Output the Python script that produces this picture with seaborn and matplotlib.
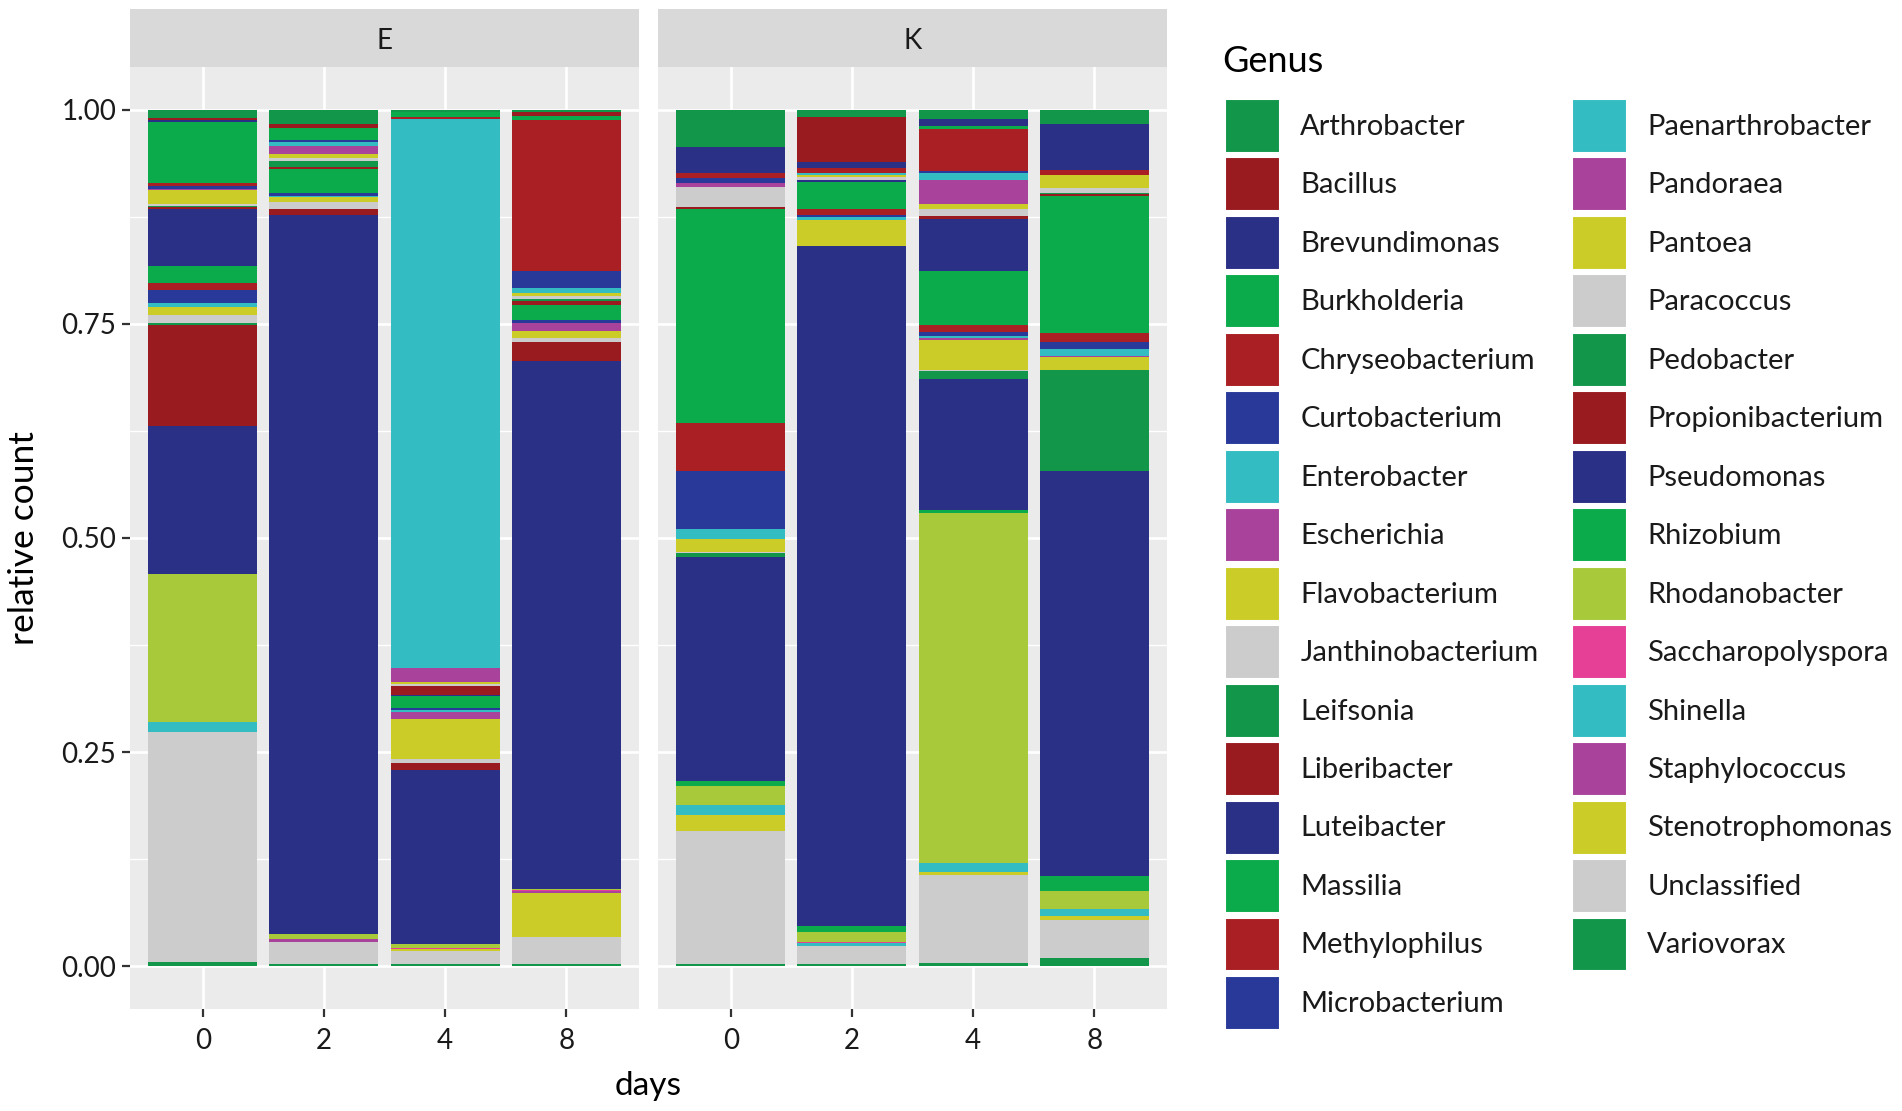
import numpy as np
import pandas as pd
import matplotlib
matplotlib.use("Agg")
import matplotlib.pyplot as plt
import seaborn as sns
from matplotlib.patches import Patch
from matplotlib.ticker import FixedLocator

genera = ["Arthrobacter", "Bacillus", "Brevundimonas", "Burkholderia", "Chryseobacterium",
          "Curtobacterium", "Enterobacter", "Escherichia", "Flavobacterium", "Janthinobacterium",
          "Leifsonia", "Liberibacter", "Luteibacter", "Massilia", "Methylophilus",
          "Microbacterium", "Paenarthrobacter", "Pandoraea", "Pantoea", "Paracoccus",
          "Pedobacter", "Propionibacterium", "Pseudomonas", "Rhizobium", "Rhodanobacter",
          "Saccharopolyspora", "Shinella", "Staphylococcus", "Stenotrophomonas", "Unclassified",
          "Variovorax"]

days = ["0", "2", "4", "8"]
sites = ["E", "K"]

#            Arth   Baci   Brev   Burk   Chry   Curt   Ente   Esch   Flav   Jant
#            Leif   Libe   Lute   Mass   Meth   Micr   Paen   Pand   Pant   Para
#            Pedo   Prop   Pseu   Rhiz   Rhod   Sacc   Shin   Stap   Sten   Uncl   Vari
E_day0 = [0.010, 0.002, 0.002, 0.071, 0.004, 0.0035, 0.0, 0.001, 0.0165, 0.002,
          0.002, 0.002, 0.067, 0.019, 0.009, 0.015, 0.005, 0.0, 0.009, 0.009,
          0.003, 0.118, 0.172, 0.001, 0.172, 0.0, 0.012, 0.0, 0.0, 0.269, 0.005]
E_day2 = [0.016, 0.005, 0.0, 0.0145, 0.0, 0.0023, 0.004, 0.010, 0.0045, 0.003,
          0.007, 0.0027, 0.0, 0.028, 0.0, 0.0035, 0.001, 0.0, 0.006, 0.0085,
          0.0, 0.006, 0.839, 0.0, 0.005, 0.0, 0.0, 0.004, 0.0, 0.026, 0.002]
E_day4 = [0.003, 0.0, 0.0, 0.005, 0.003, 0.0, 0.642, 0.0157, 0.003, 0.002,
          0.0, 0.010, 0.001, 0.015, 0.0, 0.002, 0.002, 0.008, 0.0475, 0.004,
          0.0, 0.009, 0.2023, 0.001, 0.004, 0.001, 0.0, 0.001, 0.002, 0.0155, 0.002]
E_day8 = [0.003, 0.004, 0.0, 0.005, 0.177, 0.019, 0.006, 0.0, 0.004, 0.003,
          0.003, 0.004, 0.0, 0.018, 0.0, 0.003, 0.0, 0.010, 0.008, 0.005,
          0.0, 0.022, 0.617, 0.0, 0.001, 0.002, 0.0, 0.002, 0.0514, 0.032, 0.002]
K_day0 = [0.043, 0.0, 0.031, 0.0, 0.006, 0.006, 0.0, 0.004, 0.0, 0.023,
          0.0, 0.003, 0.0, 0.249, 0.057, 0.067, 0.012, 0.0, 0.0146, 0.002,
          0.0045, 0.0, 0.261, 0.006, 0.022, 0.0, 0.0125, 0.0, 0.018, 0.156, 0.002]
K_day2 = [0.0085, 0.0525, 0.007, 0.0, 0.006, 0.0, 0.002, 0.0, 0.003, 0.003,
          0.0, 0.0, 0.002, 0.0315, 0.007, 0.003, 0.003, 0.0, 0.030, 0.0,
          0.0, 0.0, 0.795, 0.007, 0.0117, 0.001, 0.003, 0.0, 0.001, 0.021, 0.002]
K_day4 = [0.011, 0.0, 0.008, 0.003, 0.050, 0.002, 0.0085, 0.0275, 0.006, 0.0085,
          0.0, 0.003, 0.0603, 0.0634, 0.0085, 0.004, 0.003, 0.002, 0.035, 0.001,
          0.010, 0.0, 0.1527, 0.003, 0.4086, 0.001, 0.010, 0.0, 0.004, 0.102, 0.004]
K_day8 = [0.017, 0.0, 0.053, 0.0, 0.006, 0.0, 0.0, 0.0, 0.0147, 0.006,
          0.002, 0.002, 0.0, 0.160, 0.0104, 0.008, 0.0075, 0.002, 0.0145, 0.0,
          0.1185, 0.0, 0.472, 0.0167, 0.0214, 0.0, 0.0085, 0.0, 0.004, 0.0443, 0.010]

y_ticks = [0.0, 0.25, 0.5, 0.75, 1.0]
y_tick_labels = ["0.00", "0.25", "0.50", "0.75", "1.00"]

DG, DR, NV, GR, RD, BL, CY, MG, YL, GY = ("#11964A", "#991B1F", "#2B3087", "#0BAB4B", "#A91F24",
                                          "#28399A", "#33BDC3", "#A8429A", "#CCCC28", "#CCCCCC")
palette = [DG, DR, NV, GR, RD, BL, CY, MG, YL, GY,
           DG, DR, NV, GR, RD, BL, CY, MG, YL, GY,
           DG, DR, NV, GR, "#A8C939", "#E63F96", CY, MG, YL, GY, DG]

sns.set_theme(style="darkgrid")
plt.rcParams["font.family"] = ["Lato", "DejaVu Sans"]

samples = {"E": [E_day0, E_day2, E_day4, E_day8], "K": [K_day0, K_day2, K_day4, K_day8]}
rows = []
for site in sites:
    for d, vals in zip(days, samples[site]):
        for gi, (g, v) in enumerate(zip(genera, vals)):
            rows.append(dict(site=site, day=d, Genus=g, gi=gi, count=v))
df = pd.DataFrame(rows)
df["rel"] = df["count"] / df.groupby(["site", "day"])["count"].transform("sum")
df = df.sort_values(["site", "day", "gi"], ascending=[True, True, False])
df["top"] = df.groupby(["site", "day"])["rel"].cumsum()

W, H = 1902, 1111
fig = plt.figure(figsize=(W / 100, H / 100), dpi=100)
fig.patch.set_facecolor("white")

panel_left = {"E": 130, "K": 658}
panel_w = 509
panel_top, panel_bot = 67, 1009
strip_top = 9
TXT = "#1A1A1A"

for site in sites:
    l = panel_left[site]
    ax = fig.add_axes([l / W, 1 - panel_bot / H, panel_w / W, (panel_bot - panel_top) / H])
    sub = df[df.site == site]
    for gi, g in enumerate(genera):
        sns.barplot(data=sub[sub.Genus == g], x="day", y="top", order=days,
                    color=palette[gi], saturation=1, width=0.9, errorbar=None,
                    linewidth=0, ax=ax)
    ax.set_facecolor("#EBEBEB")
    ax.set_xlim(-0.6, 3.6)
    ax.set_ylim(-0.05, 1.05)
    ax.yaxis.set_major_locator(FixedLocator(y_ticks))
    ax.yaxis.set_minor_locator(FixedLocator([0.125, 0.375, 0.625, 0.875]))
    ax.grid(True, which="major", axis="both", color="white", linewidth=1.9)
    ax.grid(True, which="minor", axis="y", color="white", linewidth=1.0)
    ax.set_axisbelow(True)
    for s in ax.spines.values():
        s.set_visible(False)
    ax.set_xlabel("")
    ax.set_ylabel("")
    ax.tick_params(axis="both", which="major", length=6, width=1.6, color="#333333",
                   labelsize=20, labelcolor=TXT, pad=4, bottom=True, left=True)
    ax.tick_params(axis="x", which="major", pad=8)
    ax.tick_params(axis="y", which="minor", length=0)
    if site == "E":
        ax.set_yticklabels(y_tick_labels)
    else:
        ax.tick_params(axis="y", which="major", left=False, labelleft=False)
    sax = fig.add_axes([l / W, 1 - panel_top / H, panel_w / W, (panel_top - strip_top) / H])
    sax.set_facecolor("#D9D9D9")
    sax.set_xticks([]); sax.set_yticks([])
    for s in sax.spines.values():
        s.set_visible(False)
    sax.grid(False)
    sax.text(0.5, 0.45, site, ha="center", va="center", fontsize=20, color=TXT,
             transform=sax.transAxes)

fig.text(24 / W, 1 - 538 / H, "relative count", rotation=90, ha="center", va="center",
         fontsize=25.5, color="black")
fig.text(648 / W, 1 - 1086 / H, "days", ha="center", va="center", fontsize=24, color="black")

# legend
fig.text(1222 / W, 1 - 62 / H, "Genus", ha="left", va="center", fontsize=26, color="black")
handles = [Patch(facecolor=c, edgecolor="white", linewidth=1.5, label=g)
           for g, c in zip(genera, palette)]
leg = fig.legend(handles=handles, loc="upper left", bbox_to_anchor=(1225 / W, 1 - 99 / H),
                 ncol=2, frameon=False, fontsize=21,
                 handlelength=1.89, handleheight=2.47, labelspacing=0.154, handletextpad=0.69,
                 columnspacing=1.15, borderaxespad=0, borderpad=0)
for t in leg.get_texts():
    t.set_color(TXT)

fig.savefig("out.png", dpi=100, facecolor="white")
